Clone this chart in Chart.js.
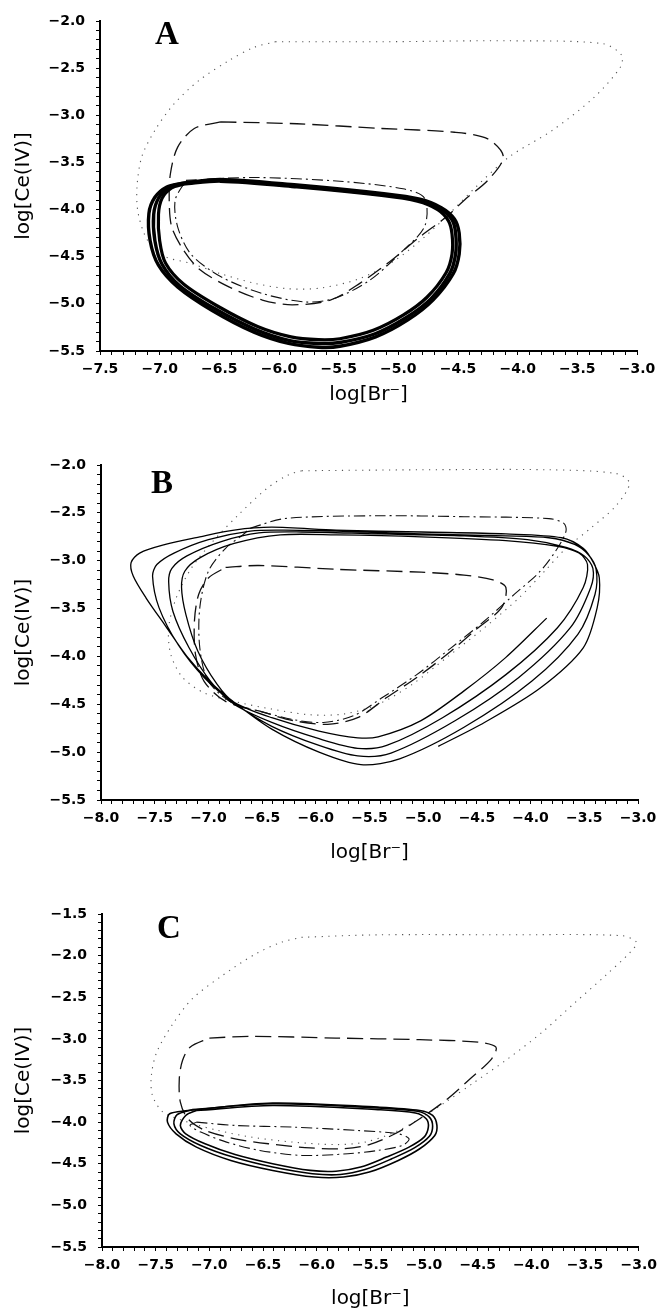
<!DOCTYPE html>
<html>
<head>
<meta charset="utf-8">
<script src="https://cdn.jsdelivr.net/npm/chart.js@4.4.1/dist/chart.umd.min.js"></script>
<style>
html, body { margin: 0; padding: 0; background: #fff; }
#page { position: relative; width: 663px; height: 1312px; overflow: hidden; }
canvas { position: absolute; left: 0; }
.tag { position: absolute; font-family: 'Liberation Serif', 'DejaVu Serif', serif; font-weight: bold;
       font-size: 33px; line-height: 33px; color: #000; }
</style>
</head>
<body>
<div id="page">
  <canvas id="chartA" width="663" height="425" style="top:0px"></canvas>
  <canvas id="chartB" width="663" height="440" style="top:425px"></canvas>
  <canvas id="chartC" width="663" height="447" style="top:865px"></canvas>
  <div class="tag" style="left:155px;top:17px">A</div>
  <div class="tag" style="left:151px;top:466px">B</div>
  <div class="tag" style="left:157px;top:911px">C</div>
</div>
<script>
// axis ranges  [min, max]
var aX = [-7.5, -3.0], aY = [-5.5, -2.0];
var bX = [-8.0, -3.0], bY = [-5.5, -2.0];
var cX = [-8.0, -3.0], cY = [-5.5, -1.5];
var xTitle = 'log[Br⁻]';
var yTitle = 'log[Ce(IV)]';

// ---- panel A : [log Br-, log Ce(IV)] ----
var aDotted = [[-6.03,-2.22],[-5.14,-2.22],[-4.07,-2.21],[-3.29,-2.24],[-3.13,-2.36],[-3.14,-2.49],[-3.36,-2.81],
  [-3.71,-3.16],[-4.07,-3.44],[-4.35,-3.76],[-4.57,-4.04],[-4.78,-4.29],[-5.03,-4.54],[-5.32,-4.73],[-5.64,-4.83],
  [-5.92,-4.84],[-6.21,-4.78],[-6.49,-4.68],[-6.74,-4.57],[-6.95,-4.50],[-7.10,-4.33],[-7.18,-4.04],[-7.19,-3.76],
  [-7.15,-3.44],[-7.04,-3.16],[-6.88,-2.88],[-6.67,-2.63],[-6.42,-2.42],[-6.21,-2.28],[-6.03,-2.22]];
var aDashed = [[-6.49,-3.07],[-5.85,-3.09],[-5.14,-3.14],[-4.53,-3.18],[-4.25,-3.25],[-4.12,-3.44],[-4.25,-3.69],
  [-4.43,-3.88],[-4.60,-4.08],[-4.82,-4.29],[-5.07,-4.55],[-5.32,-4.78],[-5.57,-4.96],[-5.89,-5.01],[-6.14,-4.96],
  [-6.42,-4.82],[-6.67,-4.63],[-6.81,-4.41],[-6.90,-4.18],[-6.92,-3.90],[-6.91,-3.62],[-6.85,-3.34],[-6.71,-3.14],
  [-6.49,-3.07]];
var aDashDot = [[-6.78,-3.69],[-6.21,-3.66],[-5.49,-3.70],[-4.96,-3.78],[-4.78,-3.88],[-4.78,-4.18],[-4.99,-4.47],
  [-5.24,-4.75],[-5.53,-4.94],[-5.78,-4.98],[-6.14,-4.89],[-6.49,-4.71],[-6.74,-4.47],[-6.85,-4.18],[-6.87,-3.90],
  [-6.78,-3.69]];
// the thick limit-cycle band: outer edge, middle, inner edge
var aSolidOuter = [[-6.81,-3.72],[-6.49,-3.68],[-5.85,-3.74],[-5.14,-3.83],[-4.82,-3.89],[-4.64,-3.98],[-4.53,-4.10],
  [-4.49,-4.25],[-4.49,-4.47],[-4.54,-4.68],[-4.71,-4.96],[-4.92,-5.17],[-5.19,-5.35],[-5.49,-5.45],[-5.67,-5.46],
  [-5.92,-5.42],[-6.21,-5.30],[-6.56,-5.07],[-6.85,-4.82],[-7.01,-4.59],[-7.08,-4.33],[-7.09,-4.04],[-7.04,-3.87],
  [-6.94,-3.76],[-6.81,-3.72]];
var aSolidMid = [[-6.80,-3.72],[-6.49,-3.69],[-5.85,-3.75],[-5.14,-3.84],[-4.83,-3.90],[-4.65,-3.99],[-4.55,-4.11],
  [-4.52,-4.25],[-4.52,-4.47],[-4.57,-4.68],[-4.73,-4.95],[-4.94,-5.15],[-5.20,-5.32],[-5.49,-5.41],[-5.67,-5.42],
  [-5.91,-5.39],[-6.20,-5.27],[-6.54,-5.05],[-6.83,-4.81],[-6.98,-4.58],[-7.04,-4.33],[-7.05,-4.05],[-7.01,-3.88],
  [-6.92,-3.76],[-6.80,-3.72]];
var aSolidInner = [[-6.80,-3.73],[-6.49,-3.70],[-5.85,-3.76],[-5.14,-3.85],[-4.84,-3.91],[-4.67,-4.00],[-4.58,-4.12],
  [-4.55,-4.26],[-4.55,-4.47],[-4.60,-4.67],[-4.76,-4.93],[-4.96,-5.12],[-5.21,-5.28],[-5.49,-5.37],[-5.67,-5.38],
  [-5.90,-5.35],[-6.18,-5.24],[-6.52,-5.02],[-6.80,-4.79],[-6.95,-4.57],[-7.00,-4.33],[-7.01,-4.05],[-6.98,-3.88],
  [-6.90,-3.77],[-6.80,-3.73]];

// ---- panel B ----
var bDotted = [[-6.13,-2.06],[-5.02,-2.05],[-3.83,-2.05],[-3.20,-2.09],[-3.08,-2.19],[-3.20,-2.42],[-3.44,-2.66],
  [-3.67,-2.87],[-3.87,-3.11],[-4.11,-3.39],[-4.43,-3.70],[-4.78,-4.01],[-5.10,-4.29],[-5.42,-4.50],[-5.73,-4.60],
  [-6.05,-4.61],[-6.41,-4.55],[-6.76,-4.47],[-7.04,-4.38],[-7.24,-4.22],[-7.35,-3.98],[-7.37,-3.70],[-7.30,-3.39],
  [-7.16,-3.08],[-6.96,-2.80],[-6.72,-2.52],[-6.45,-2.24],[-6.25,-2.10],[-6.13,-2.06]];
var bDashed = [[-6.84,-3.07],[-6.53,-3.05],[-5.81,-3.09],[-5.02,-3.12],[-4.62,-3.15],[-4.35,-3.20],[-4.23,-3.28],
  [-4.27,-3.49],[-4.51,-3.72],[-4.78,-3.98],[-5.06,-4.22],[-5.34,-4.43],[-5.61,-4.64],[-5.89,-4.71],[-6.21,-4.67],
  [-6.53,-4.57],[-6.84,-4.47],[-7.04,-4.26],[-7.12,-3.98],[-7.13,-3.63],[-7.09,-3.35],[-7.00,-3.18],[-6.84,-3.07]];
var bDashDot = [[-6.61,-2.66],[-6.29,-2.56],[-5.42,-2.53],[-4.62,-2.54],[-3.83,-2.56],[-3.69,-2.61],[-3.67,-2.69],
  [-3.75,-2.87],[-3.91,-3.11],[-4.15,-3.35],[-4.43,-3.63],[-4.74,-3.91],[-5.06,-4.19],[-5.38,-4.43],[-5.65,-4.62],
  [-5.93,-4.69],[-6.21,-4.66],[-6.53,-4.57],[-6.76,-4.50],[-7.00,-4.26],[-7.08,-3.91],[-7.08,-3.49],[-7.00,-3.11],
  [-6.84,-2.87],[-6.68,-2.73],[-6.61,-2.66]];
// one spiralling trajectory, read lap by lap
var bSolid = [
  [-4.86,-4.94],[-4.43,-4.69],[-3.91,-4.33],[-3.51,-3.91],[-3.38,-3.49],[-3.36,-3.18],[-3.42,-3.01],[-3.51,-2.87],
  [-3.71,-2.76],[-4.23,-2.72],[-5.02,-2.70],[-5.81,-2.68],[-6.41,-2.65],[-6.76,-2.68],
  [-7.08,-2.75],[-7.40,-2.83],[-7.64,-2.92],[-7.72,-3.02],[-7.70,-3.16],[-7.58,-3.39],[-7.40,-3.68],[-7.20,-4.00],
  [-6.98,-4.27],[-6.76,-4.48],
  [-6.41,-4.76],[-5.97,-5.00],[-5.58,-5.13],[-5.22,-5.07],[-4.62,-4.74],[-3.99,-4.26],[-3.56,-3.77],[-3.40,-3.35],
  [-3.39,-3.09],[-3.46,-2.94],[-3.59,-2.83],[-3.83,-2.76],[-4.23,-2.74],[-5.02,-2.72],[-5.81,-2.69],[-6.29,-2.68],
  [-6.61,-2.69],
  [-7.00,-2.78],[-7.32,-2.92],[-7.48,-3.04],[-7.52,-3.16],[-7.46,-3.49],[-7.28,-3.88],[-7.04,-4.22],[-6.76,-4.49],
  [-6.41,-4.73],[-5.97,-4.93],[-5.61,-5.04],[-5.30,-5.01],[-4.70,-4.67],[-4.11,-4.22],[-3.63,-3.70],[-3.44,-3.28],
  [-3.42,-3.08],[-3.50,-2.95],[-3.67,-2.86],[-4.03,-2.78],[-4.62,-2.74],[-5.42,-2.72],[-6.13,-2.70],[-6.53,-2.71],
  [-6.88,-2.80],[-7.20,-2.95],[-7.34,-3.08],[-7.37,-3.22],[-7.33,-3.53],[-7.18,-3.91],[-6.98,-4.26],[-6.76,-4.50],
  [-6.41,-4.69],[-5.97,-4.86],[-5.61,-4.96],[-5.34,-4.93],[-4.82,-4.64],[-4.23,-4.19],[-3.75,-3.70],[-3.51,-3.28],
  [-3.47,-3.04],[-3.55,-2.92],[-3.75,-2.85],[-4.23,-2.79],[-5.02,-2.75],[-5.81,-2.73],[-6.33,-2.73],
  [-6.76,-2.82],[-7.08,-2.97],[-7.22,-3.11],[-7.25,-3.28],[-7.21,-3.56],[-7.10,-3.94],[-6.92,-4.29],[-6.76,-4.48],
  [-6.41,-4.64],[-5.97,-4.78],[-5.61,-4.85],[-5.42,-4.84],[-5.02,-4.67],[-4.62,-4.36],[-4.23,-4.01],[-3.85,-3.60]];

// ---- panel C ----
var cDotted = [[-6.14,-1.78],[-5.43,-1.75],[-4.25,-1.75],[-3.16,-1.76],[-3.02,-1.84],[-3.08,-1.96],[-3.31,-2.24],
  [-3.59,-2.56],[-3.90,-2.92],[-4.22,-3.24],[-4.53,-3.52],[-4.80,-3.76],[-5.04,-3.96],[-5.27,-4.12],[-5.55,-4.24],
  [-5.82,-4.27],[-6.22,-4.24],[-6.61,-4.18],[-6.92,-4.10],[-7.20,-4.00],[-7.43,-3.88],[-7.53,-3.68],[-7.54,-3.44],
  [-7.49,-3.16],[-7.35,-2.84],[-7.16,-2.52],[-6.88,-2.24],[-6.57,-1.98],[-6.33,-1.84],[-6.14,-1.78]];
var cDashed = [[-7.00,-2.99],[-6.61,-2.97],[-5.82,-2.99],[-5.04,-3.01],[-4.49,-3.04],[-4.33,-3.10],[-4.37,-3.24],
  [-4.57,-3.48],[-4.80,-3.74],[-5.04,-3.96],[-5.27,-4.14],[-5.51,-4.27],[-5.75,-4.32],[-6.06,-4.31],[-6.45,-4.26],
  [-6.76,-4.20],[-7.04,-4.10],[-7.20,-3.96],[-7.27,-3.76],[-7.28,-3.48],[-7.25,-3.26],[-7.18,-3.10],[-7.00,-2.99]];
var cDashDot = [[-7.12,-4.00],[-6.76,-4.04],[-6.22,-4.06],[-5.63,-4.10],[-5.24,-4.14],[-5.14,-4.20],[-5.20,-4.28],
  [-5.43,-4.34],[-5.71,-4.38],[-6.14,-4.40],[-6.53,-4.34],[-6.84,-4.24],[-7.08,-4.12],[-7.18,-4.04],[-7.12,-4.00]];
var cSolidOuter = [[-7.20,-3.86],[-6.41,-3.77],[-5.43,-3.82],[-5.04,-3.86],[-4.92,-3.92],[-4.88,-4.04],[-4.90,-4.16],
  [-5.04,-4.32],[-5.24,-4.46],[-5.51,-4.60],[-5.75,-4.66],[-6.02,-4.66],[-6.41,-4.58],[-6.80,-4.46],[-7.12,-4.30],
  [-7.31,-4.14],[-7.39,-4.00],[-7.37,-3.90],[-7.20,-3.86]];
var cSolidMid = [[-7.16,-3.85],[-6.41,-3.78],[-5.43,-3.83],[-5.06,-3.87],[-4.95,-3.94],[-4.92,-4.05],[-4.95,-4.17],
  [-5.09,-4.31],[-5.30,-4.44],[-5.55,-4.57],[-5.78,-4.63],[-6.04,-4.62],[-6.41,-4.54],[-6.78,-4.42],[-7.08,-4.28],
  [-7.27,-4.14],[-7.33,-4.02],[-7.30,-3.91],[-7.16,-3.85]];
var cSolidInner = [[-7.12,-3.86],[-6.41,-3.80],[-5.43,-3.85],[-5.08,-3.89],[-4.98,-3.96],[-4.96,-4.06],[-5.00,-4.18],
  [-5.14,-4.30],[-5.35,-4.42],[-5.59,-4.54],[-5.82,-4.59],[-6.06,-4.58],[-6.41,-4.50],[-6.76,-4.39],[-7.04,-4.26],
  [-7.22,-4.14],[-7.27,-4.04],[-7.22,-3.92],[-7.12,-3.86]];

var lineStyles = {
  solid:   { borderColor: '#000', borderWidth: 1.3, borderDash: [] },
  dashed:  { borderColor: '#111', borderWidth: 1.3, borderDash: [16, 7] },
  dashdot: { borderColor: '#111', borderWidth: 1.1, borderDash: [11, 4, 2, 4] },
  dotted:  { borderColor: '#555', borderWidth: 1.1, borderDash: [1.2, 5.5] }
};

function tickText(v) {
  if (Math.abs(v * 2 - Math.round(v * 2)) > 1e-6) return '';
  return v.toFixed(1).replace('-', '\u2212');
}

function axisFont(size, bold) {
  return { family: "'DejaVu Sans', 'Liberation Sans', sans-serif", size: size, weight: bold ? 'bold' : 'normal' };
}

function drawPanel(id, xr, yr, box, curves) {
  var datasets = curves.map(function (c) {
    var ds = {
      data: c.pts.map(function (p) { return { x: p[0], y: p[1] }; }),
      showLine: true, fill: false, pointRadius: 0, tension: 0.3
    };
    Object.assign(ds, lineStyles[c.kind]);
    if (c.width) ds.borderWidth = c.width;
    return ds;
  });

  var grid = { drawOnChartArea: false, drawTicks: true, tickLength: 4, color: '#000', lineWidth: 1 };
  new Chart(document.getElementById(id), {
    type: 'scatter',
    data: { datasets: datasets },
    options: {
      responsive: false, animation: false, devicePixelRatio: 1,
      layout: { autoPadding: false, padding: { left: 0, top: box.top, right: box.right, bottom: 0 } },
      plugins: { legend: { display: false }, tooltip: { enabled: false } },
      scales: {
        x: {
          type: 'linear', min: xr[0], max: xr[1],
          border: { display: true, color: '#000', width: 2 },
          grid: grid,
          ticks: { stepSize: 0.1, autoSkip: false, maxRotation: 0, padding: box.xpad, color: '#000',
                   font: axisFont(14, true), callback: tickText },
          title: { display: true, text: xTitle, color: '#000', font: axisFont(20, false),
                   padding: { top: 0, bottom: box.xtitle } },
          afterFit: function (s) { s.height = box.xh; }
        },
        y: {
          type: 'linear', min: yr[0], max: yr[1],
          border: { display: true, color: '#000', width: 2 },
          grid: grid,
          ticks: { stepSize: 0.1, autoSkip: false, padding: 11, color: '#000',
                   font: axisFont(14, true), callback: tickText },
          title: { display: true, text: yTitle, color: '#000', font: axisFont(20, false),
                   padding: { top: 12, bottom: 0 } },
          afterFit: function (s) { s.width = box.left; }
        }
      }
    }
  });
}

drawPanel('chartA', aX, aY, { top: 21, right: 26, left: 100, xh: 74, xpad: 6, xtitle: 18 }, [
  { pts: aSolidOuter, kind: 'solid', width: 3.4 },
  { pts: aSolidMid, kind: 'solid', width: 3.4 },
  { pts: aSolidInner, kind: 'solid', width: 3.2 },
  { pts: aDashed, kind: 'dashed' },
  { pts: aDashDot, kind: 'dashdot' },
  { pts: aDotted, kind: 'dotted' }
]);

drawPanel('chartB', bX, bY, { top: 40, right: 25, left: 101, xh: 65, xpad: 6, xtitle: 0 }, [
  { pts: bSolid, kind: 'solid' },
  { pts: bDashed, kind: 'dashed' },
  { pts: bDashDot, kind: 'dashdot' },
  { pts: bDotted, kind: 'dotted' }
]);

drawPanel('chartC', cX, cY, { top: 49, right: 20, left: 102, xh: 65, xpad: 6, xtitle: 1 }, [
  { pts: cSolidOuter, kind: 'solid', width: 1.6 },
  { pts: cSolidMid, kind: 'solid', width: 1.6 },
  { pts: cSolidInner, kind: 'solid', width: 1.6 },
  { pts: cDashed, kind: 'dashed' },
  { pts: cDashDot, kind: 'dashdot' },
  { pts: cDotted, kind: 'dotted' }
]);
</script>
</body>
</html>
